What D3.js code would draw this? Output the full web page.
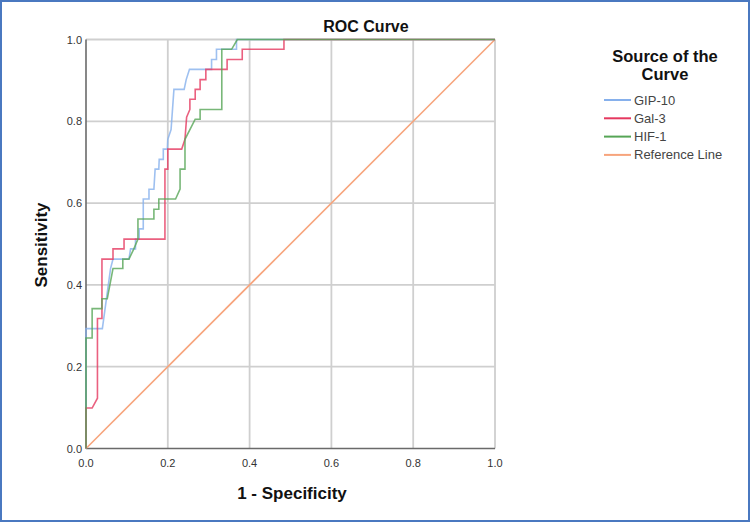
<!DOCTYPE html>
<html lang="en">
<head>
  <meta charset="UTF-8">
  <title>ROC Curve</title>
  <script src="https://d3js.org/d3.v7.min.js"></script>
  <style>
    body {
      margin: 0;
      background: #fff;
      overflow: hidden;
    }
    svg {
      display: block;
      font-family: "Liberation Sans", Arial, sans-serif;
    }
    .grid line {
      stroke: #cfcfcf;
      stroke-width: 1.8;
    }
    .tick-label {
      font-size: 11px;
      fill: #333;
    }
    .axis-title {
      font-size: 17px;
      font-weight: bold;
      fill: #111;
    }
    .curve {
      fill: none;
      stroke-width: 1.6;
    }
    .legend text {
      font-size: 13px;
      fill: #444;
    }
  </style>
</head>
<body>
<svg width="750" height="522"></svg>
<script>
const svg = d3.select("svg");

// === Data (1 - specificity, sensitivity) ===
const ticks = [0, 0.2, 0.4, 0.6, 0.8, 1.0];
const seriesNames = ["GIP-10", "Gal-3", "HIF-1", "Reference Line"];

const gipFpr = [0, 0, 0.04, 0.045, 0.06, 0.066, 0.105, 0.109, 0.121, 0.121, 0.13, 0.13, 0.14, 0.14, 0.154, 0.154, 0.166, 0.169, 0.178, 0.179, 0.189, 0.189, 0.199, 0.2, 0.208, 0.215, 0.24, 0.245, 0.253, 0.307, 0.307, 0.319, 0.319, 0.368, 0.368, 1];
const gipTpr = [0, 0.293, 0.293, 0.33, 0.44, 0.463, 0.463, 0.488, 0.488, 0.512, 0.512, 0.537, 0.537, 0.61, 0.61, 0.634, 0.634, 0.683, 0.683, 0.707, 0.707, 0.732, 0.732, 0.756, 0.78, 0.878, 0.878, 0.902, 0.927, 0.927, 0.951, 0.951, 0.976, 0.976, 1, 1];

const galFpr = [0, 0, 0.015, 0.028, 0.028, 0.039, 0.039, 0.066, 0.066, 0.093, 0.093, 0.193, 0.193, 0.2, 0.2, 0.234, 0.242, 0.246, 0.254, 0.254, 0.267, 0.267, 0.279, 0.279, 0.293, 0.293, 0.345, 0.345, 0.382, 0.382, 0.484, 0.484, 1];
const galTpr = [0, 0.099, 0.099, 0.123, 0.318, 0.318, 0.463, 0.463, 0.488, 0.488, 0.512, 0.512, 0.683, 0.683, 0.732, 0.732, 0.756, 0.81, 0.829, 0.854, 0.854, 0.878, 0.878, 0.902, 0.902, 0.927, 0.927, 0.951, 0.951, 0.976, 0.976, 1, 1];

const hifFpr = [0, 0, 0.015, 0.015, 0.039, 0.039, 0.052, 0.066, 0.09, 0.09, 0.105, 0.117, 0.127, 0.127, 0.166, 0.166, 0.178, 0.178, 0.219, 0.23, 0.23, 0.242, 0.242, 0.267, 0.279, 0.279, 0.332, 0.332, 0.356, 0.37, 1];
const hifTpr = [0, 0.27, 0.27, 0.342, 0.342, 0.366, 0.366, 0.44, 0.44, 0.463, 0.463, 0.488, 0.512, 0.561, 0.561, 0.585, 0.585, 0.61, 0.61, 0.634, 0.683, 0.683, 0.756, 0.805, 0.805, 0.829, 0.829, 0.976, 0.976, 1, 1];

const refFpr = [0, 1];
const refTpr = [0, 1];

const colors = ["#86b0ec", "#e5385f", "#56a556", "#f7a47c"];

const series = [
  { name: seriesNames[0], xs: gipFpr, ys: gipTpr, color: colors[0] },
  { name: seriesNames[1], xs: galFpr, ys: galTpr, color: colors[1] },
  { name: seriesNames[2], xs: hifFpr, ys: hifTpr, color: colors[2] },
  { name: seriesNames[3], xs: refFpr, ys: refTpr, color: colors[3] }
];

// === Scales ===
const x = d3.scaleLinear().domain([0, 1]).range([86, 495]);
const y = d3.scaleLinear().domain([0, 1]).range([448.5, 39.5]);

// outer frame
svg.append("rect")
  .attr("x", 1).attr("y", 1)
  .attr("width", 748).attr("height", 520)
  .attr("fill", "none")
  .attr("stroke", "#4a78c0")
  .attr("stroke-width", 2);

// === Grid ===
const grid = svg.append("g").attr("class", "grid");
grid.selectAll(".gv")
  .data(ticks.filter(t => t > 0))
  .join("line")
  .attr("x1", d => x(d)).attr("x2", d => x(d))
  .attr("y1", y(0)).attr("y2", y(1));
grid.selectAll(".gh")
  .data(ticks.filter(t => t > 0))
  .join("line")
  .attr("x1", x(0)).attr("x2", x(1))
  .attr("y1", d => y(d)).attr("y2", d => y(d));

// axis lines
svg.append("line")
  .attr("x1", x(0)).attr("x2", x(0))
  .attr("y1", y(0)).attr("y2", y(1))
  .attr("stroke", "#6a6a6a").attr("stroke-width", 1.6);
svg.append("line")
  .attr("x1", x(0)).attr("x2", x(1))
  .attr("y1", y(0)).attr("y2", y(0))
  .attr("stroke", "#6a6a6a").attr("stroke-width", 1.6);

// tick labels
svg.append("g").selectAll("text")
  .data(ticks)
  .join("text")
  .attr("class", "tick-label")
  .attr("x", d => x(d))
  .attr("y", y(0) + 18)
  .attr("text-anchor", "middle")
  .text(d3.format(".1f"));

svg.append("g").selectAll("text")
  .data(ticks)
  .join("text")
  .attr("class", "tick-label")
  .attr("x", x(0) - 4)
  .attr("y", d => y(d) + 4)
  .attr("text-anchor", "end")
  .text(d3.format(".1f"));

// === Curves ===
const line = d3.line()
  .x(d => x(d[0]))
  .y(d => y(d[1]));

const drawOrder = [3, 0, 1, 2];
svg.append("g").selectAll("path")
  .data(drawOrder.map(i => series[i]))
  .join("path")
  .attr("class", "curve")
  .attr("stroke", d => d.color)
  .attr("stroke-opacity", d => d.name === "Reference Line" ? 1 : 0.8)
  .attr("d", d => line(d.xs.map((v, i) => [v, d.ys[i]])));

// === Titles ===
svg.append("text")
  .attr("class", "axis-title")
  .attr("x", 366).attr("y", 32)
  .attr("text-anchor", "middle")
  .style("font-size", "16px")
  .text("ROC Curve");

svg.append("text")
  .attr("class", "axis-title")
  .attr("x", 292).attr("y", 499)
  .attr("text-anchor", "middle")
  .text("1 - Specificity");

svg.append("text")
  .attr("class", "axis-title")
  .attr("transform", "translate(47,245) rotate(-90)")
  .attr("text-anchor", "middle")
  .text("Sensitivity");

// === Legend ===
const legend = svg.append("g").attr("class", "legend");
legend.append("text")
  .attr("x", 665).attr("y", 62)
  .attr("text-anchor", "middle")
  .style("font-size", "16.5px").style("font-weight", "bold").style("fill", "#111")
  .text("Source of the");
legend.append("text")
  .attr("x", 665).attr("y", 80)
  .attr("text-anchor", "middle")
  .style("font-size", "16.5px").style("font-weight", "bold").style("fill", "#111")
  .text("Curve");

const item = legend.selectAll(".item")
  .data(series)
  .join("g")
  .attr("class", "item")
  .attr("transform", (d, i) => `translate(604,${100 + i * 18.3})`);
item.append("line")
  .attr("x1", 0).attr("x2", 27)
  .attr("stroke", d => d.color)
  .attr("stroke-width", 2);
item.append("text")
  .attr("x", 30).attr("y", 4.5)
  .text(d => d.name);
</script>
</body>
</html>
